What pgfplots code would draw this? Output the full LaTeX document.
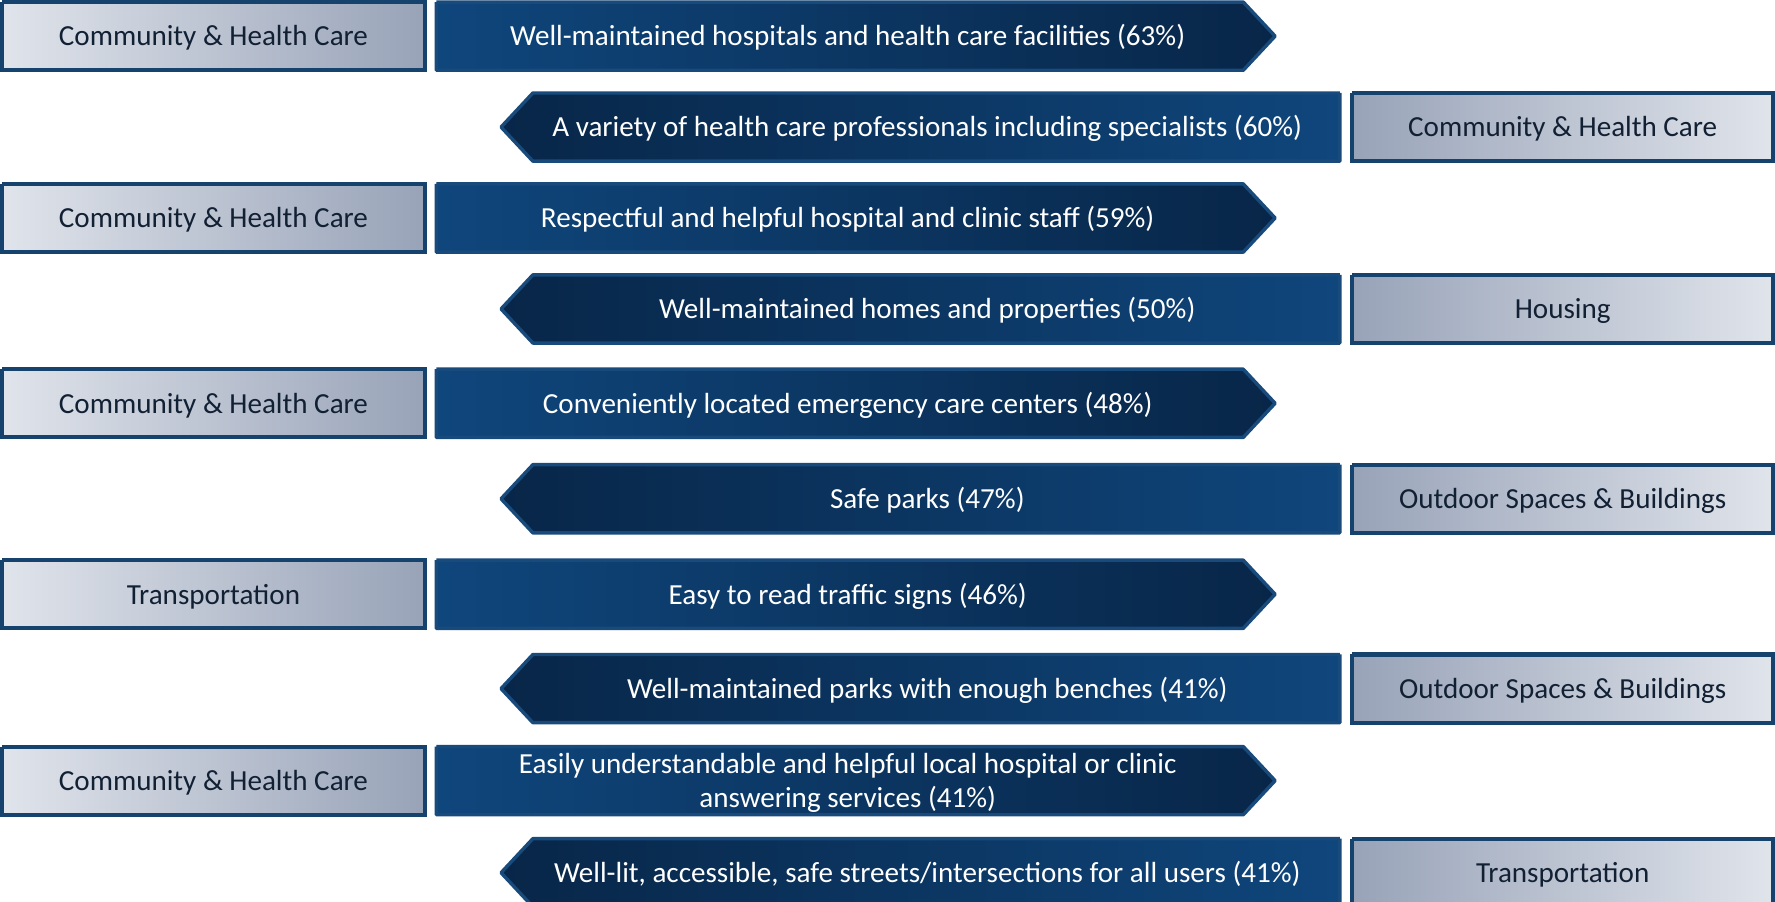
\documentclass[border=0pt]{standalone}
\usepackage{fontspec}
\setmainfont{Carlito}
\usepackage{pgfplots}
\pgfplotsset{compat=1.18}

\definecolor{boxlight}{RGB}{224,228,235}
\definecolor{boxdark}{RGB}{152,163,184}
\definecolor{boxedge}{RGB}{22,66,110}
\definecolor{boxtext}{RGB}{18,32,52}
\definecolor{arrlight}{RGB}{15,70,124}
\definecolor{arrdark}{RGB}{8,38,72}
\definecolor{arredge}{RGB}{24,74,124}

\tikzset{lbl/.style={font=\fontsize{12.8}{15}\selectfont, inner sep=0pt, anchor=base}}

% left box + right-pointing arrow: [text shift]{top}{mid}{bottom}{category}{item}
\newcommand\leftrow[6][0]{%
  \addplot[forget plot, mark=none, draw=boxedge, line width=1.8pt, left color=boxlight, right color=boxdark]
    coordinates {(8,#2) (380,#2) (380,#4) (8,#4) (8,#2)};
  \addplot[forget plot, mark=none, draw=arredge, line width=1.5pt, line join=round, left color=arrlight, right color=arrdark]
    coordinates {(390,#2) (1100,#2) (1128,#3) (1100,#4) (390,#4) (390,#2)};
  \node[lbl, text=boxtext] at (axis cs:194,#3+8.6) {#5};
  \node[lbl, text=white, align=center] at (axis cs:752,#3+8.6+#1) {#6};
}
% left-pointing arrow + right box
\newcommand\rightrow[6][0]{%
  \addplot[forget plot, mark=none, draw=arredge, line width=1.5pt, line join=round, left color=arrdark, right color=arrlight]
    coordinates {(1185,#2) (475,#2) (447,#3) (475,#4) (1185,#4) (1185,#2)};
  \addplot[forget plot, mark=none, draw=boxedge, line width=1.8pt, left color=boxdark, right color=boxlight]
    coordinates {(1196,#2) (1566,#2) (1566,#4) (1196,#4) (1196,#2)};
  \node[lbl, text=white, align=center] at (axis cs:822,#3+8.6+#1) {#6};
  \node[lbl, text=boxtext] at (axis cs:1381,#3+8.6) {#5};
}

\begin{document}
\begin{tikzpicture}
\begin{axis}[
    scale only axis,
    width=784pt, height=398pt,
    xmin=0, xmax=1568, ymin=0, ymax=796,
    y dir=reverse,
    axis lines=none,
  ]
  \leftrow{5}{35}{65}{Community \& Health Care}{Well-maintained hospitals and health care facilities (63\%)}
  \rightrow{85}{115}{145}{Community \& Health Care}{A variety of health care professionals including specialists (60\%)}
  \leftrow{165}{195}{225}{Community \& Health Care}{Respectful and helpful hospital and clinic staff (59\%)}
  \rightrow{245}{275}{305}{Housing}{Well-maintained homes and properties (50\%)}
  \leftrow{328}{358}{388}{Community \& Health Care}{Conveniently located emergency care centers (48\%)}
  \rightrow{412}{442}{472}{Outdoor Spaces \& Buildings}{Safe parks (47\%)}
  \leftrow{496}{526}{556}{Transportation}{Easy to read traffic signs (46\%)}
  \rightrow{579}{609}{639}{Outdoor Spaces \& Buildings}{Well-maintained parks with enough benches (41\%)}
  \leftrow[15]{660}{690}{720}{Community \& Health Care}{Easily understandable and helpful local hospital or clinic\\answering services (41\%)}
  \rightrow{741}{771}{801}{Transportation}{Well-lit, accessible, safe streets/intersections for all users (41\%)}
\end{axis}
\end{tikzpicture}
\end{document}
